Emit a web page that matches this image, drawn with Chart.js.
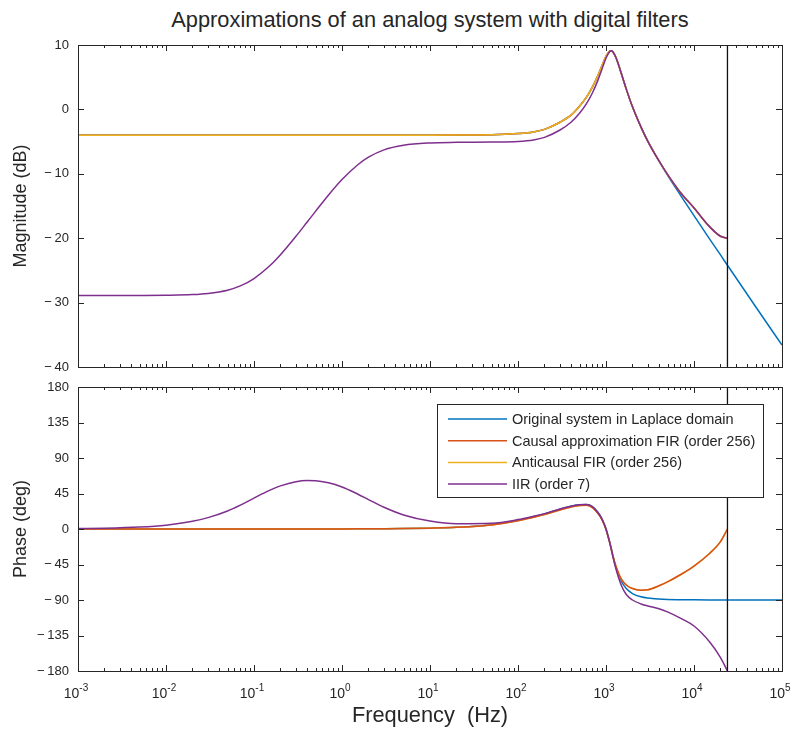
<!DOCTYPE html>
<html>
<head>
<meta charset="utf-8">
<title>Analog system and digital filter approximations</title>
<script src="https://cdn.jsdelivr.net/npm/chart.js@4.4.1/dist/chart.umd.min.js"></script>
<style>
  body { margin: 0; background: #fff; }
  #figure { position: relative; width: 796px; height: 731px; overflow: hidden; }
  #figTitle {
    position: absolute; left: 78px; width: 704px; top: 7px;
    text-align: center; line-height: 26px; white-space: nowrap;
    font-family: "Liberation Sans", Arial, sans-serif; font-size: 21.8px; color: #262626;
  }
  canvas { position: absolute; left: 0; }
  #magChart { top: 0; }
  #phaseChart { top: 375px; }
</style>
</head>
<body>
<div id="figure">
  <div id="figTitle">Approximations of an analog system with digital filters</div>
  <canvas id="magChart" width="796" height="375"></canvas>
  <canvas id="phaseChart" width="796" height="356"></canvas>
</div>
<script>
// frequency grid in Hz; FIR/IIR traces stop at the Nyquist frequency (index 49)
const freqHz = [0.001, 0.002, 0.005, 0.01, 0.02, 0.03, 0.05, 0.07, 0.1, 0.15,
  0.2, 0.3, 0.4, 0.5, 0.7, 1, 1.5, 2, 3, 5,
  10, 20, 50, 100, 150, 200, 300, 400, 500, 600,
  700, 800, 900, 1000, 1100, 1150, 1200, 1300, 1500, 1700,
  2000, 2500, 3000, 4000, 5000, 7000, 10000, 15000, 20000, 24000,
  50000, 100000];
const nyquistHz = 24000;

// magnitude, dB
const magOriginal = [-4, -4, -4, -4, -4, -4, -4, -4, -4, -4,
  -4, -4, -4, -4, -4, -4, -4, -4, -4, -4,
  -4, -3.99, -3.95, -3.75, -3.5, -3.1, -2.0, -0.9, 0.5, 1.9,
  3.45, 5.1, 6.8, 8.25, 9.05, 9.11, 8.92, 8.01, 5.49, 3.15,
  0.4, -2.75, -5.0, -8.0, -10.2, -13.3, -16.5, -20.1, -22.6, -24.2,
  -30.6, -36.6];
const magCausalFir = [-4, -4, -4, -4, -4, -4, -4, -4, -4, -4,
  -4, -4, -4, -4, -4, -4, -4, -4, -4, -4,
  -4, -3.99, -3.95, -3.75, -3.5, -3.1, -2.0, -0.9, 0.5, 1.9,
  3.45, 5.1, 6.8, 8.25, 9.05, 9.11, 8.92, 8.01, 5.49, 3.15,
  0.4, -2.75, -5.0, -8.0, -10.1, -12.9, -15.3, -18.2, -19.7, -20];
const magAnticausalFir = [-4, -4, -4, -4, -4, -4, -4, -4, -4, -4,
  -4, -4, -4, -4, -4, -4, -4, -4, -4, -4,
  -4, -3.99, -3.95, -3.75, -3.5, -3.1, -2.0, -0.9, 0.5, 1.9,
  3.45, 5.1, 6.8, 8.25, 9.05, 9.11, 8.92, 8.01, 5.49, 3.15,
  0.4, -2.75, -5.0, -8.0, -10.1, -12.9, -15.3, -18.2, -19.7, -20];
const magIir = [-28.9, -28.9, -28.89, -28.86, -28.76, -28.58, -28.07, -27.41, -26.26, -24.32,
  -22.56, -19.7, -17.53, -15.83, -13.33, -10.9, -8.63, -7.42, -6.28, -5.56,
  -5.21, -5.12, -5.08, -4.98, -4.74, -4.35, -3.2, -2.0, -0.6, 0.9,
  2.55, 4.35, 6.25, 7.95, 8.95, 9.1, 8.92, 8.01, 5.49, 3.15,
  0.4, -2.75, -5.0, -8.0, -10.1, -12.9, -15.3, -18.2, -19.7, -20];

// phase, degrees
const phaseOriginal = [0, 0, 0, 0, 0, 0, 0, 0, 0, 0,
  0, 0, 0, 0, 0.08, 0.11, 0.16, 0.22, 0.33, 0.55,
  1.1, 2.2, 5.5, 11, 15.5, 19, 25, 28.8, 30.6, 31,
  28.3, 21.8, 13, 0.6, -16, -25, -34, -48.5, -66.5, -75.5,
  -81.8, -86, -87.6, -88.8, -89.3, -89.6, -89.8, -89.9, -89.9, -89.9,
  -90, -90];
const phaseCausalFir = [0, 0, 0, 0, 0, 0, 0, 0, 0, 0,
  0, 0, 0, 0, 0.08, 0.11, 0.16, 0.22, 0.33, 0.55,
  1.1, 2.1, 5.2, 10.5, 15, 18.3, 24.2, 27.9, 29.8, 30,
  27.2, 20.5, 11.8, -0.5, -17, -26, -34.5, -47.5, -64, -71,
  -75.5, -77.5, -77, -72, -67, -58, -47, -31, -16, 0];
const phaseAnticausalFir = [0, 0, 0, 0, 0, 0, 0, 0, 0, 0,
  0, 0, 0, 0, 0.08, 0.11, 0.16, 0.22, 0.33, 0.55,
  1.1, 2.1, 5.2, 10.5, 15, 18.3, 24.2, 27.9, 29.8, 30,
  27.2, 20.5, 11.8, -0.5, -17, -26, -34.5, -47.5, -64, -71,
  -75.5, -77.5, -77, -72, -67, -58, -47, -31, -16, 0];
const phaseIir = [0.5, 1.0, 2.5, 4.9, 9.7, 14.4, 22.9, 30.3, 39.2, 48.9,
  54.7, 60, 61.4, 61.2, 58.6, 53.3, 44.4, 37.3, 27.5, 17.8,
  10.1, 6.7, 7.3, 11.9, 16.1, 19.5, 25.3, 28.8, 30.6, 31,
  28.3, 21.5, 12.6, -0.3, -17, -26, -35.5, -51, -72, -83,
  -90, -95, -97.5, -101, -105, -113, -123, -143, -163, -180];

const seriesLabels = ['Original system in Laplace domain', 'Causal approximation FIR (order 256)',
  'Anticausal FIR (order 256)', 'IIR (order 7)'];
const seriesColors = ['#0072BD', '#D95319', '#EDB120', '#7E2F8E'];

// axis limits and tick steps
const freqMin = 1e-3, freqMax = 1e5;
const decadeExps = [-3, -2, -1, 0, 1, 2, 3, 4, 5];
const magRange = [-40, 10], magStep = 10;
const phaseRange = [-180, 180], phaseStep = 45;

const inkColor = '#262626';
const sansFont = '"Liberation Sans", Arial, sans-serif';
const narrowFont = '"Liberation Sans Narrow", "Liberation Sans", Arial, sans-serif';

function buildPoints(values) {
  return values.map((v, i) => ({ x: freqHz[i], y: v }));
}

function traceSet(idx, values, order) {
  return {
    label: seriesLabels[idx], data: buildPoints(values),
    borderColor: seriesColors[idx], backgroundColor: seriesColors[idx],
    borderWidth: 1.5, pointRadius: 0, fill: false,
    cubicInterpolationMode: 'monotone', order: order
  };
}

function nyquistSet(range) {
  return {
    label: 'Nyquist', data: [{ x: nyquistHz, y: range[0] }, { x: nyquistHz, y: range[1] }],
    borderColor: '#111', borderWidth: 1.3, pointRadius: 0, tension: 0, order: 0
  };
}

// box around the axes, with inward ticks on all four sides
const frameTicks = {
  id: 'frameTicks',
  afterDatasetsDraw(chart) {
    const { ctx, chartArea: a, scales: { x, y } } = chart;
    ctx.save();
    ctx.strokeStyle = inkColor;
    ctx.lineWidth = 1;
    ctx.beginPath();
    decadeExps.forEach((e, k) => {
      for (let m = 1; m < 10; m++) {
        if (k === decadeExps.length - 1 && m > 1) break;
        const px = Math.round(x.getPixelForValue(m * Math.pow(10, e))) + 0.5;
        const len = m === 1 ? 6 : 3;
        ctx.moveTo(px, a.bottom); ctx.lineTo(px, a.bottom - len);
        ctx.moveTo(px, a.top); ctx.lineTo(px, a.top + len);
      }
    });
    y.ticks.forEach(t => {
      const py = Math.round(y.getPixelForValue(t.value)) + 0.5;
      ctx.moveTo(a.left, py); ctx.lineTo(a.left + 6, py);
      ctx.moveTo(a.right, py); ctx.lineTo(a.right - 6, py);
    });
    ctx.stroke();
    ctx.strokeRect(Math.round(a.left) + 0.5, Math.round(a.top) + 0.5,
      Math.round(a.right - a.left), Math.round(a.bottom - a.top));
    ctx.restore();
  }
};

// 10^n labels under the frequency axis
const decadeLabels = {
  id: 'decadeLabels',
  afterDraw(chart) {
    const { ctx, chartArea: a, scales: { x } } = chart;
    ctx.save();
    ctx.fillStyle = inkColor;
    ctx.textBaseline = 'alphabetic';
    decadeExps.forEach(e => {
      const sup = String(e);
      ctx.font = '14px ' + narrowFont;
      const wb = ctx.measureText('10').width;
      ctx.font = '10px ' + narrowFont;
      const ws = ctx.measureText(sup).width;
      const left = x.getPixelForValue(Math.pow(10, e)) - (wb + ws) / 2 - 2;
      ctx.font = '14px ' + narrowFont;
      ctx.fillText('10', left, a.bottom + 27);
      ctx.font = '10px ' + narrowFont;
      ctx.fillText(sup, left + wb, a.bottom + 20);
    });
    ctx.restore();
  }
};

// legend box in the upper right of the phase axes
const boxedLegend = {
  id: 'boxedLegend',
  afterDraw(chart) {
    const { ctx, chartArea: a } = chart;
    const box = { left: a.right - 345, top: a.top + 17, width: 326, height: 93 };
    ctx.save();
    ctx.fillStyle = '#fff';
    ctx.fillRect(box.left, box.top, box.width, box.height);
    ctx.strokeStyle = inkColor;
    ctx.lineWidth = 1;
    ctx.strokeRect(Math.round(box.left) + 0.5, Math.round(box.top) + 0.5, box.width, box.height);
    ctx.font = '14.5px ' + sansFont;
    ctx.textBaseline = 'middle';
    seriesLabels.forEach((label, i) => {
      const ry = box.top + 15 + i * 21.7;
      ctx.strokeStyle = seriesColors[i];
      ctx.lineWidth = 1.5;
      ctx.beginPath();
      ctx.moveTo(box.left + 11, ry); ctx.lineTo(box.left + 70, ry);
      ctx.stroke();
      ctx.fillStyle = inkColor;
      ctx.fillText(label, box.left + 75, ry + 1);
    });
    ctx.restore();
  }
};

function tickText(v) {
  return v < 0 ? '\u2212\u2009' + Math.abs(v) : String(v);
}

function axisScales(range, step, yTitle, xHeight, showXTitle) {
  return {
    x: {
      type: 'logarithmic', min: freqMin, max: freqMax,
      grid: { display: false, drawTicks: false }, border: { display: false },
      ticks: { display: false },
      title: {
        display: showXTitle, text: 'Frequency  (Hz)', color: inkColor,
        font: { family: sansFont, size: 21.8 }, padding: { top: 0, bottom: 2 }
      },
      afterFit: s => { s.height = xHeight; }
    },
    y: {
      min: range[0], max: range[1],
      ticks: {
        stepSize: step, color: inkColor, font: { family: narrowFont, size: 13 }, padding: 9,
        callback: v => tickText(v)
      },
      grid: { display: false, drawTicks: false }, border: { display: false },
      title: {
        display: true, text: yTitle, color: inkColor,
        font: { family: sansFont, size: 18 }, padding: { top: 10, bottom: 0 }
      },
      // fixed axis width, and no extra room reserved for the end labels
      afterFit: s => { s.width = 78; s.paddingTop = 0; s.paddingBottom = 0; }
    }
  };
}

const baseOptions = {
  responsive: false, animation: false, events: [],
  plugins: { legend: { display: false }, tooltip: { enabled: false } }
};

new Chart(document.getElementById('magChart'), {
  type: 'line',
  data: {
    datasets: [
      traceSet(0, magOriginal, 4),
      traceSet(1, magCausalFir, 3),
      traceSet(2, magAnticausalFir, 2),
      traceSet(3, magIir, 1),
      nyquistSet(magRange)
    ]
  },
  options: Object.assign({}, baseOptions, {
    layout: { padding: { top: 45, right: 14, bottom: 8, left: 0 } },
    scales: axisScales(magRange, magStep, 'Magnitude (dB)', 0, false)
  }),
  plugins: [frameTicks]
});

new Chart(document.getElementById('phaseChart'), {
  type: 'line',
  data: {
    datasets: [
      traceSet(0, phaseOriginal, 4),
      traceSet(1, phaseCausalFir, 3),
      traceSet(2, phaseAnticausalFir, 3.5),
      traceSet(3, phaseIir, 1),
      nyquistSet(phaseRange)
    ]
  },
  options: Object.assign({}, baseOptions, {
    layout: { padding: { top: 12, right: 14, bottom: 0, left: 0 } },
    scales: axisScales(phaseRange, phaseStep, 'Phase (deg)', 60, true)
  }),
  plugins: [frameTicks, decadeLabels, boxedLegend]
});
</script>
</body>
</html>
